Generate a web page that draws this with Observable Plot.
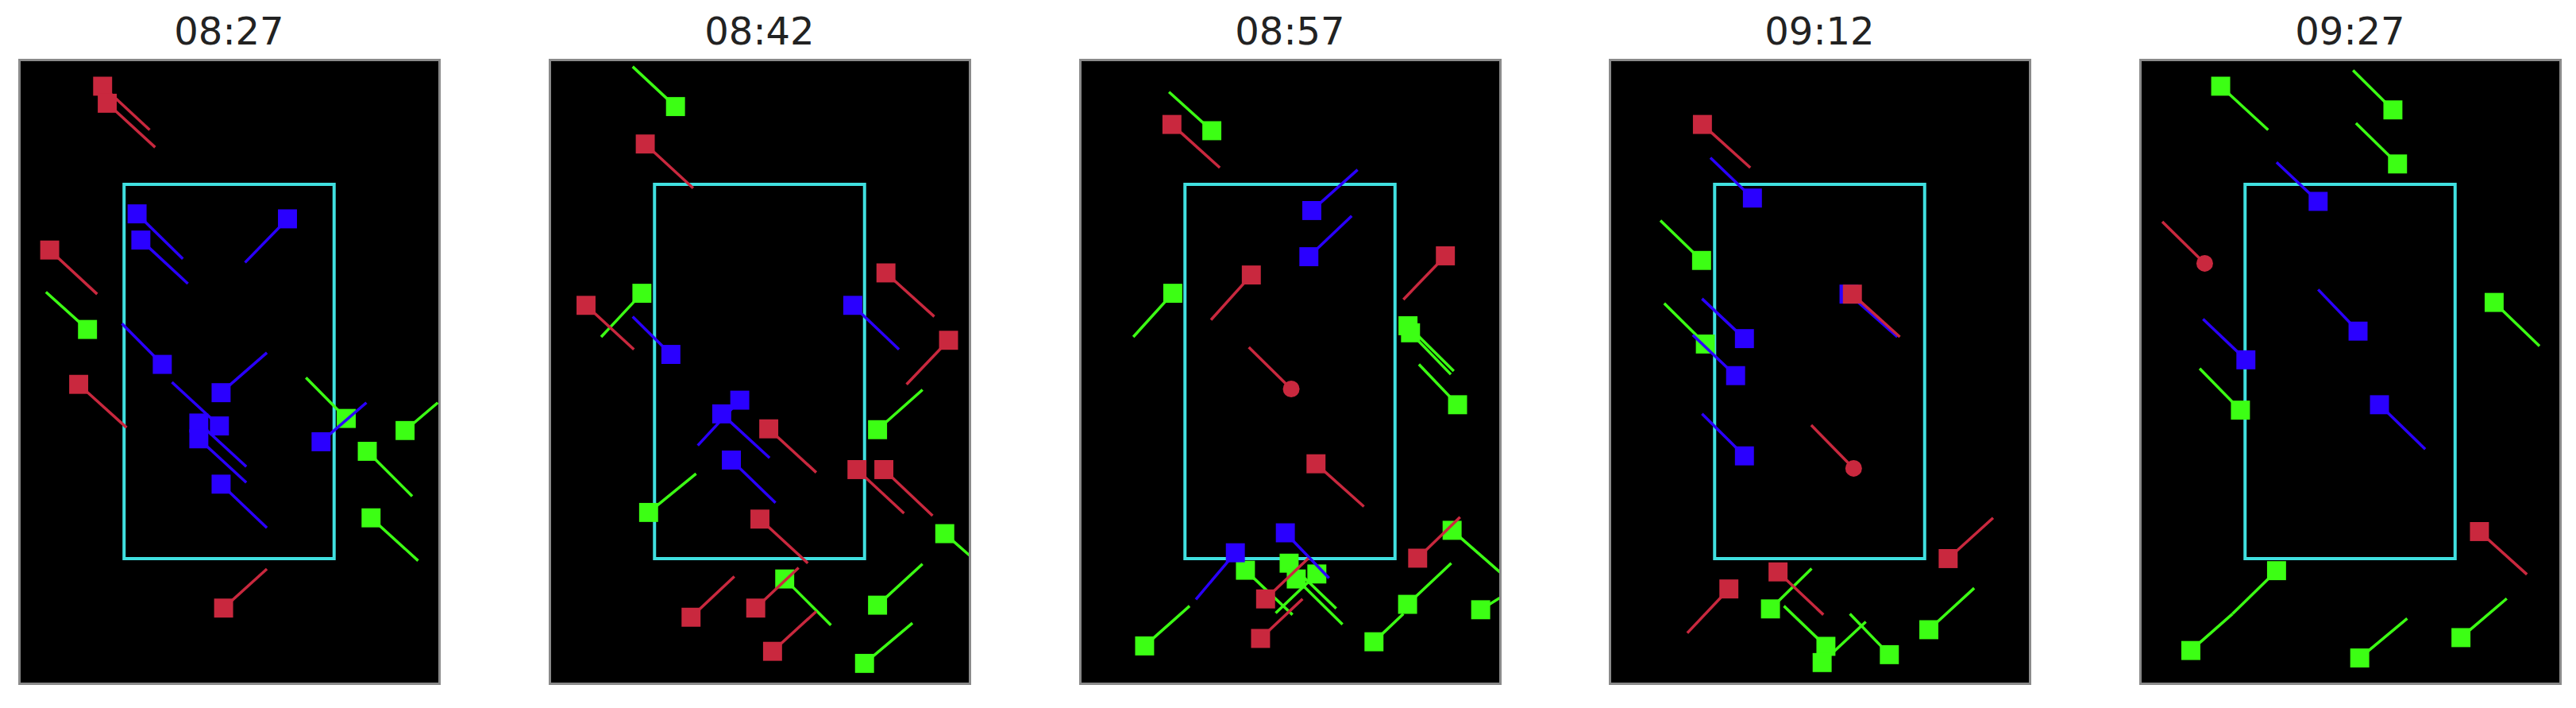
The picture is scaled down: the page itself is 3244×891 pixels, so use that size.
<!DOCTYPE html>
<html>
<head>
<meta charset="utf-8">
<script src="https://cdn.jsdelivr.net/npm/d3@7"></script>
<script src="https://cdn.jsdelivr.net/npm/@observablehq/plot@0.6"></script>
<style>
html, body { margin: 0; padding: 0; background: #fff; }
#root { position: relative; width: 3244px; height: 891px; overflow: hidden; }
.title { position: absolute; font-family: "DejaVu Sans", sans-serif; font-size: 48px; line-height: 48px; color: #222; text-align: center; width: 529px; }
.panel { position: absolute; }
</style>
</head>
<body>
<div id="root"></div>
<script>
// Panel titles (time stamps)
const times = ["08:27", "08:42", "08:57", "09:12", "09:27"];

// Agent kinds and their colours
const kinds = ["G", "B", "R"];
const kindColors = ["#3cff14", "#2a00ff", "#c9283e"];

// Cyan zone rectangle (same in each panel)
const zone = [{x1: 25, x2: 75, y1: 30, y2: 120}];

// Rows: [kind, marker, x, y, tailX, tailY]
const p0827 = [
  ["R","square",19.8,6.3,31.0,16.8],
  ["R","square",20.9,10.4,32.3,21.0],
  ["R","square",7.2,45.7,18.5,56.3],
  ["G","square",16.2,64.8,6.3,55.8],
  ["R","square",14.1,78.0,25.5,88.4],
  ["B","square",28.0,37.0,38.9,47.8],
  ["B","square",28.9,43.3,40.1,53.8],
  ["B","square",63.8,38.2,53.7,48.7],
  ["B","square",34.0,73.2,24.4,63.4],
  ["B","square",48.0,80.0,58.9,70.4],
  ["B","square",42.7,87.3,54.0,97.8],
  ["B","square",42.7,91.1,54.0,101.6],
  ["B","square",47.6,88.0,36.3,77.5],
  ["B","square",48.0,102.0,58.9,112.5],
  ["B","square",71.8,91.8,82.6,82.4],
  ["G","square",77.8,86.2,68.2,76.4],
  ["G","square",91.8,89.1,99.6,82.4],
  ["G","square",82.8,94.1,93.5,104.9],
  ["G","square",83.7,110.1,94.9,120.4],
  ["R","square",48.6,131.8,58.9,122.4]
];
const p0842 = [
  ["G","square",29.9,11.2,19.7,1.6],
  ["R","square",22.7,20.2,34.1,30.8],
  ["R","square",8.6,59.0,20.0,69.6],
  ["G","square",21.9,56.1,12.2,66.6],
  ["B","square",28.8,70.8,19.7,61.7],
  ["B","square",72.1,59.0,83.1,69.6],
  ["R","square",80.0,51.2,91.5,61.7],
  ["R","square",94.9,67.4,84.9,78.0],
  ["G","square",78.0,88.9,88.7,79.3],
  ["B","square",45.2,81.8,35.2,92.7],
  ["B","square",40.9,85.1,52.3,95.7],
  ["B","square",43.2,96.2,53.7,106.5],
  ["R","square",52.1,88.7,63.4,99.2],
  ["G","square",23.5,108.8,34.8,99.5],
  ["R","square",73.1,98.5,84.3,109.0],
  ["R","square",79.5,98.5,91.1,109.6],
  ["G","square",94.0,113.9,102.0,121.0],
  ["R","square",50.0,110.4,61.4,121.0],
  ["G","square",55.9,124.8,66.9,135.9],
  ["R","square",49.0,131.8,59.2,122.1],
  ["R","square",33.6,134.0,43.9,124.2],
  ["R","square",53.0,142.2,63.4,132.6],
  ["G","square",78.0,131.1,88.7,121.2],
  ["G","square",74.9,145.1,86.3,135.4]
];
const p0857 = [
  ["G","square",31.3,17.0,21.1,7.7],
  ["R","square",21.8,15.5,33.2,25.9],
  ["B","square",55.1,36.2,66.0,26.4],
  ["B","square",54.4,47.3,64.6,37.5],
  ["R","square",40.7,51.7,31.1,62.5],
  ["G","square",22.0,56.1,12.6,66.6],
  ["R","square",86.9,47.1,76.9,57.6],
  ["G","square",78.0,63.9,88.9,74.8],
  ["G","square",78.6,65.6,88.2,75.6],
  ["G","square",89.8,82.9,80.6,73.2],
  ["R","circle",50.2,79.1,40.1,69.1],
  ["R","square",56.1,97.1,67.5,107.4],
  ["B","square",48.8,113.7,59.2,124.6],
  ["B","square",36.9,118.5,27.5,129.7],
  ["G","square",39.3,122.7,50.5,133.4],
  ["G","square",49.7,121.0,60.9,131.9],
  ["G","square",51.4,124.8,62.4,135.7],
  ["G","square",56.3,123.6,46.5,133.0],
  ["R","square",44.1,129.6,54.3,119.8],
  ["R","square",42.9,139.1,52.9,129.6],
  ["G","square",15.3,140.9,26.0,131.3],
  ["R","square",80.3,119.8,90.4,109.9],
  ["G","square",88.5,113.1,100.5,123.7],
  ["G","square",77.9,130.9,88.3,121.0],
  ["G","square",69.9,139.9,76.9,133.2],
  ["G","square",95.3,132.2,102.0,128.0]
];
const p0912 = [
  ["R","square",22.0,15.5,33.4,25.9],
  ["B","square",33.9,33.2,23.9,23.5],
  ["G","square",21.8,48.2,12.0,38.6],
  ["B","square",32.0,67.0,21.9,57.4],
  ["G","square",22.7,68.3,12.9,58.5],
  ["B","square",29.9,75.9,19.7,66.1],
  ["B","square",32.0,95.2,21.9,85.1],
  ["B","square",56.9,56.3,68.4,66.6],
  ["R","square",57.7,56.3,69.0,66.6],
  ["R","circle",58.0,98.2,47.9,87.8],
  ["R","square",80.5,119.9,91.2,110.1],
  ["R","square",40.0,123.1,50.8,133.4],
  ["R","square",28.3,127.2,18.4,137.8],
  ["G","square",38.2,132.0,48.0,122.3],
  ["G","square",51.4,141.0,41.4,131.3],
  ["G","square",50.5,144.9,60.9,135.1],
  ["G","square",66.5,143.0,57.1,133.2],
  ["G","square",75.9,137.0,86.7,127.0]
];
const p0927 = [
  ["G","square",19.1,6.3,30.4,16.8],
  ["G","square",60.1,12.0,50.6,2.5],
  ["G","square",61.2,25.0,51.3,15.2],
  ["B","square",42.3,34.0,32.4,24.6],
  ["R","circle",15.3,48.9,5.2,38.9],
  ["G","square",84.2,58.3,95.0,68.8],
  ["B","square",51.8,65.2,42.3,55.2],
  ["B","square",25.1,72.1,14.9,62.3],
  ["G","square",23.8,84.2,14.1,74.2],
  ["B","square",56.9,82.9,67.8,93.6],
  ["R","square",80.7,113.4,92.0,123.7],
  ["G","square",32.4,122.8,21.9,133.2],
  ["G","square",12.0,142.0,21.9,133.2],
  ["G","square",52.2,143.8,63.5,134.3],
  ["G","square",76.3,138.9,87.2,129.5]
];

const panels = [p0827, p0842, p0857, p0912, p0927];

// Layout (pixels)
const panelLeft = [24, 692, 1360, 2027, 2695];
const panelTop = 75, panelW = 529, panelH = 785, pad = 2;

const root = document.getElementById("root");

panels.forEach((rowsRaw, i) => {
  const rows = rowsRaw.map(([kind, shape, x, y, x2, y2]) => ({kind, shape, x, y, x2, y2}));
  const marks = [
    Plot.frame({fill: "black"}),
    Plot.rect(zone, {x1: "x1", x2: "x2", y1: "y1", y2: "y2", fill: "none", stroke: "#40e0e0", strokeWidth: 4})
  ];
  for (const k of kinds) {
    const sub = rows.filter(d => d.kind === k);
    marks.push(Plot.link(sub, {x1: "x", y1: "y", x2: "x2", y2: "y2", stroke: "kind", strokeWidth: 3.5, clip: true}));
    marks.push(Plot.dot(sub.filter(d => d.shape === "square"), {x: "x", y: "y", symbol: "square", r: 13.5, fill: "kind", stroke: "none", clip: true}));
    marks.push(Plot.dot(sub.filter(d => d.shape === "circle"), {x: "x", y: "y", r: 10.5, fill: "kind", stroke: "none", clip: true}));
  }
  marks.push(Plot.frame({stroke: "#8a8a8a", strokeWidth: 3}));

  const chart = Plot.plot({
    width: panelW + 2 * pad,
    height: panelH + 2 * pad,
    margin: pad,
    x: {domain: [0, 100], axis: null},
    y: {domain: [0, 150], reverse: true, axis: null},
    color: {type: "ordinal", domain: kinds, range: kindColors},
    style: {background: "transparent"},
    marks
  });
  const wrap = document.createElement("div");
  wrap.className = "panel";
  wrap.style.left = (panelLeft[i] - pad) + "px";
  wrap.style.top = (panelTop - pad) + "px";
  wrap.appendChild(chart);
  root.appendChild(wrap);

  const t = document.createElement("div");
  t.className = "title";
  t.textContent = times[i];
  t.style.left = panelLeft[i] + "px";
  t.style.top = "15px";
  root.appendChild(t);
});
</script>
</body>
</html>
